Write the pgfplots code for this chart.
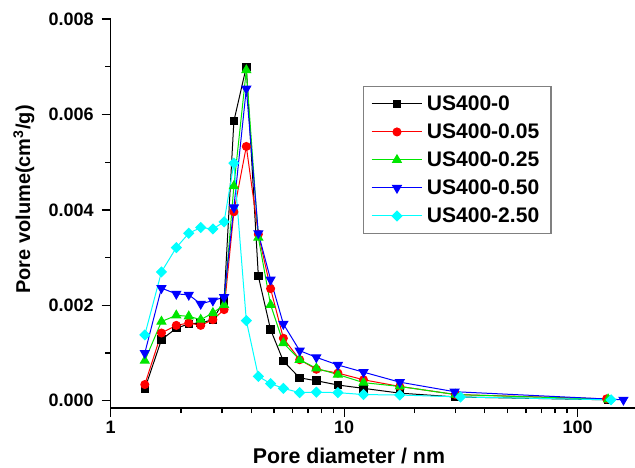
\documentclass[border=0pt]{standalone}
\usepackage{fontspec}
\setmainfont{Liberation Sans}
\usepackage{pgfplots}
\pgfplotsset{compat=1.18}
\definecolor{cgreen}{RGB}{0,230,0}
\definecolor{ccyan}{RGB}{0,255,255}
\begin{document}
\begin{tikzpicture}[x=1pt,y=1pt]
\begin{axis}[
  at={(0pt,0pt)}, anchor=south west,
  scale only axis,
  width=393.2pt, height=291.5pt,
  xmode=log,
  xmin=1, xmax=176,
  ymin=-0.000147, ymax=0.008,
  axis x line*=bottom, axis y line*=left,
  axis line style={line width=1.1pt},
  every tick/.style={black, line width=1pt},
  tick align=outside,
  major tick length=6.75pt, minor tick length=4pt,
  xtick={1,10,100}, xticklabels={1,10,100},
  ytick={0,0.002,0.004,0.006,0.008},
  minor ytick={0.001,0.003,0.005,0.007},
  scaled y ticks=false,
  /pgf/number format/assume math mode=true,
  tick label style={font=\fontsize{13.5}{16}\selectfont\bfseries},
  xticklabel style={anchor=north, inner sep=0pt, yshift=-3pt},
  yticklabel style={anchor=east, inner sep=0pt, xshift=-5.8pt, /pgf/number format/fixed, /pgf/number format/fixed zerofill, /pgf/number format/precision=3},
  xlabel={Pore diameter / nm},
  ylabel={Pore volume(cm\textsuperscript{3}/g)},
  xlabel style={font=\fontsize{16}{18}\selectfont\bfseries, at={(axis description cs:0.4545,-0.1436)}, anchor=base, inner sep=0pt},
  ylabel style={font=\fontsize{15}{18}\selectfont\bfseries, at={(axis description cs:-0.1863,0.5356)}, anchor=north, inner sep=0pt},
  clip=false,
  legend style={
    at={(axis description cs:0.481,0.8276)}, anchor=north west,
    draw=gray, line width=0.8pt, inner xsep=5.8pt, inner ysep=4pt,
    font=\fontsize{15.8}{18}\selectfont\bfseries,
    row sep=3pt,
    nodes={inner sep=3pt, text height=11pt, text depth=1pt},
    legend cell align=left,
  },
  legend image code/.code={\draw[mark repeat=2,mark phase=2] plot coordinates {(0pt,0pt) (19pt,0pt) (38pt,0pt)};},
]
\addplot[black, line width=0.75pt, mark=square*, mark size=2.8pt, mark options={solid}] coordinates {
(1.40,0.00025) (1.65,0.00128) (1.91,0.00152) (2.16,0.00161) (2.43,0.00163) (2.74,0.0017) (3.06,0.0021) (3.37,0.00586) (3.81,0.00700) (4.29,0.00261) (4.84,0.00149) (5.49,0.00083) (6.45,0.00048) (7.6,0.00042) (9.4,0.00033) (12.1,0.00026) (17.3,0.00016) (30,0.00008) (135,0.00002)
};
\addlegendentry{US400-0}
\addplot[red, line width=0.75pt, mark=*, mark size=3pt] coordinates {
(1.40,0.00034) (1.65,0.00142) (1.91,0.00158) (2.16,0.00163) (2.43,0.00158) (2.74,0.0017) (3.06,0.00191) (3.37,0.00396) (3.81,0.00533) (4.29,0.00349) (4.84,0.00235) (5.49,0.00131) (6.45,0.00086) (7.6,0.00066) (9.4,0.00058) (12.1,0.00044) (17.3,0.0003) (30,0.00013) (133,0.00004)
};
\addlegendentry{US400-0.05}
\addplot[cgreen, line width=0.75pt, mark=triangle*, mark size=3.8pt] coordinates {
(1.40,0.00084) (1.65,0.00166) (1.91,0.00179) (2.16,0.00177) (2.43,0.0017) (2.74,0.00184) (3.06,0.00201) (3.37,0.0045) (3.81,0.00693) (4.29,0.00342) (4.84,0.00201) (5.49,0.00121) (6.45,0.00086) (7.6,0.00068) (9.4,0.00055) (12.1,0.00038) (17.3,0.0003) (30,0.00013) (135,0.00003)
};
\addlegendentry{US400-0.25}
\addplot[blue, line width=0.75pt, mark=triangle*, mark size=3.8pt, mark options={rotate=180}] coordinates {
(1.40,0.00100) (1.65,0.00236) (1.91,0.00224) (2.16,0.00222) (2.43,0.00203) (2.74,0.0021) (3.06,0.00217) (3.37,0.00405) (3.81,0.00654) (4.29,0.00351) (4.84,0.00254) (5.49,0.00161) (6.45,0.00105) (7.6,0.00091) (9.4,0.00075) (12.1,0.0006) (17.3,0.00039) (29.7,0.00019) (157,0.00002)
};
\addlegendentry{US400-0.50}
\addplot[ccyan, line width=0.75pt, mark=square*, mark size=2.6pt, mark options={rotate=45}] coordinates {
(1.40,0.00138) (1.65,0.0027) (1.91,0.00321) (2.16,0.00351) (2.43,0.00363) (2.74,0.0036) (3.06,0.00375) (3.37,0.00498) (3.81,0.00168) (4.29,0.00051) (4.84,0.00036) (5.49,0.00026) (6.45,0.00017) (7.6,0.00018) (9.4,0.00017) (12.1,0.00013) (17.3,0.00012) (31.5,0.00008) (139,0.00002)
};
\addlegendentry{US400-2.50}
\end{axis}
\pgfresetboundingbox
\path[use as bounding box] (-83pt,-44.5pt) rectangle (393.2pt,305.8pt);
\end{tikzpicture}
\end{document}
